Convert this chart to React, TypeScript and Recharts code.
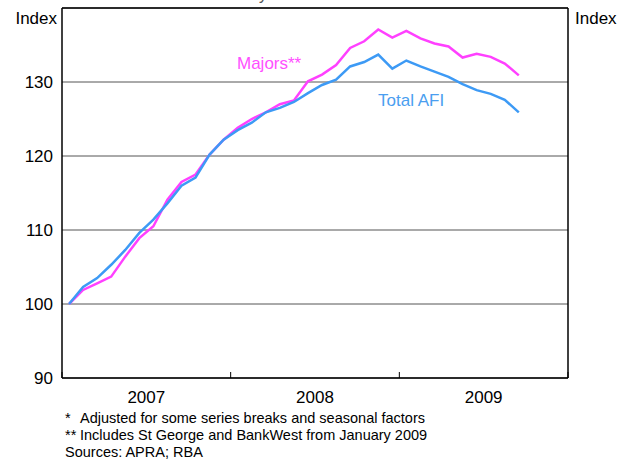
import { LineChart, Line, XAxis, YAxis, CartesianGrid } from 'recharts';

// months Jan 2007 .. Sep 2009
const months = [
  'Jan-07', 'Feb-07', 'Mar-07', 'Apr-07', 'May-07', 'Jun-07', 'Jul-07', 'Aug-07', 'Sep-07', 'Oct-07', 'Nov-07', 'Dec-07',
  'Jan-08', 'Feb-08', 'Mar-08', 'Apr-08', 'May-08', 'Jun-08', 'Jul-08', 'Aug-08', 'Sep-08', 'Oct-08', 'Nov-08', 'Dec-08',
  'Jan-09', 'Feb-09', 'Mar-09', 'Apr-09', 'May-09', 'Jun-09', 'Jul-09', 'Aug-09', 'Sep-09'
];

const totalAfi = [
  100, 102.3, 103.5, 105.3, 107.3, 109.6, 111.4, 113.6, 116.0, 117.1, 120.2, 122.2,
  123.5, 124.5, 125.9, 126.5, 127.3, 128.5, 129.6, 130.3, 132.1, 132.7, 133.7, 131.8,
  132.9, 132.1, 131.4, 130.7, 129.7, 128.9, 128.4, 127.6, 125.9
];

const majors = [
  100, 101.9, 102.8, 103.7, 106.4, 108.9, 110.5, 114.1, 116.5, 117.5, 120.2, 122.2,
  123.8, 125.0, 125.9, 127.0, 127.5, 130.1, 131.0, 132.3, 134.6, 135.5, 137.1, 136.0,
  136.9, 135.9, 135.2, 134.8, 133.3, 133.8, 133.4, 132.5, 130.9
];

const yTicks = [90, 100, 110, 120, 130];
const yearDividers = [0, 12, 24, 36];
const yearLabelPos = [6, 18, 30];
const yearLabels = ['2007', '2008', '2009'];

const footnotes = [
  { mark: '*', text: 'Adjusted for some series breaks and seasonal factors' },
  { mark: '**', text: 'Includes St George and BankWest from January 2009' }
];

const FONT = '"Liberation Sans", Arial, sans-serif';

const data = months.map((m, i) => ({ month: m, t: i + 0.5, total: totalAfi[i], majors: majors[i] }));

const DividerTick = (props: any) => {
  const { x, y } = props;
  return <line x1={x} x2={x} y1={y} y2={y - 6} stroke="#000" strokeWidth={1} />;
};

export default function App() {
  return (
    <div style={{ position: 'absolute', left: 0, top: 0, width: 619, height: 462, background: '#fff' }}>
      <LineChart
        width={619}
        height={462}
        data={data}
        margin={{ top: 7, right: 0, bottom: 82, left: 0 }}
        style={{ fontFamily: FONT }}
      >
        <CartesianGrid vertical={false} stroke="#555" strokeWidth={1} yAxisId="L" xAxisId="x" />
        <XAxis
          xAxisId="x"
          dataKey="t"
          type="number"
          domain={[0, 36]}
          ticks={yearDividers}
          height={1}
          tickSize={0}
          tickMargin={0}
          tickLine={false}
          tick={<DividerTick />}
          axisLine={{ stroke: '#000', strokeWidth: 1.5 }}
        />
        <XAxis
          xAxisId="yr"
          dataKey="t"
          type="number"
          domain={[0, 36]}
          ticks={yearLabelPos}
          height={1}
          tickSize={0}
          tickMargin={12}
          tickLine={false}
          axisLine={false}
          tickFormatter={(v: number) => yearLabels[yearLabelPos.indexOf(v)]}
          tick={{ fill: '#000', fontSize: 17 }}
        />
        <XAxis
          xAxisId="top"
          orientation="top"
          dataKey="t"
          type="number"
          domain={[0, 36]}
          height={1}
          tick={false}
          tickLine={false}
          axisLine={{ stroke: '#000', strokeWidth: 1.5 }}
        />
        <YAxis
          yAxisId="L"
          domain={[90, 140]}
          ticks={yTicks}
          width={62}
          tickSize={0}
          tickMargin={9}
          tickLine={false}
          axisLine={{ stroke: '#000', strokeWidth: 1.5 }}
          tick={{ fill: '#000', fontSize: 17 }}
        />
        <YAxis
          yAxisId="R"
          orientation="right"
          domain={[90, 140]}
          ticks={yTicks}
          width={51}
          tickSize={0}
          tickMargin={7}
          tickLine={false}
          axisLine={{ stroke: '#000', strokeWidth: 1.5 }}
          tick={{ fill: '#000', fontSize: 17 }}
        />
        <Line
          xAxisId="x"
          yAxisId="L"
          dataKey="majors"
          stroke="#ff40ff"
          strokeWidth={2.5}
          dot={false}
          isAnimationActive={false}
        />
        <Line
          xAxisId="x"
          yAxisId="L"
          dataKey="total"
          stroke="#3d9af5"
          strokeWidth={2.5}
          dot={false}
          isAnimationActive={false}
        />
        <text x={281} y={0} textAnchor="middle" fontSize={16} fill="#555">January 2007 = 100</text>
        <text x={57} y={24} textAnchor="end" fontSize={17} fill="#000">Index</text>
        <text x={575} y={24} textAnchor="start" fontSize={17} fill="#000">Index</text>
        <text x={237} y={69} fontSize={17} fill="#ff50ff">Majors**</text>
        <text x={378} y={106} fontSize={17} fill="#4a9ef0">Total AFI</text>
        {footnotes.map((f, i) => (
          <g key={f.mark}>
            <text x={65} y={423 + i * 17} fontSize={14.5} fill="#000">{f.mark}</text>
            <text x={80} y={423 + i * 17} fontSize={14.5} fill="#000">{f.text}</text>
          </g>
        ))}
        <text x={65} y={457} fontSize={14.5} fill="#000">Sources: APRA; RBA</text>
      </LineChart>
    </div>
  );
}
